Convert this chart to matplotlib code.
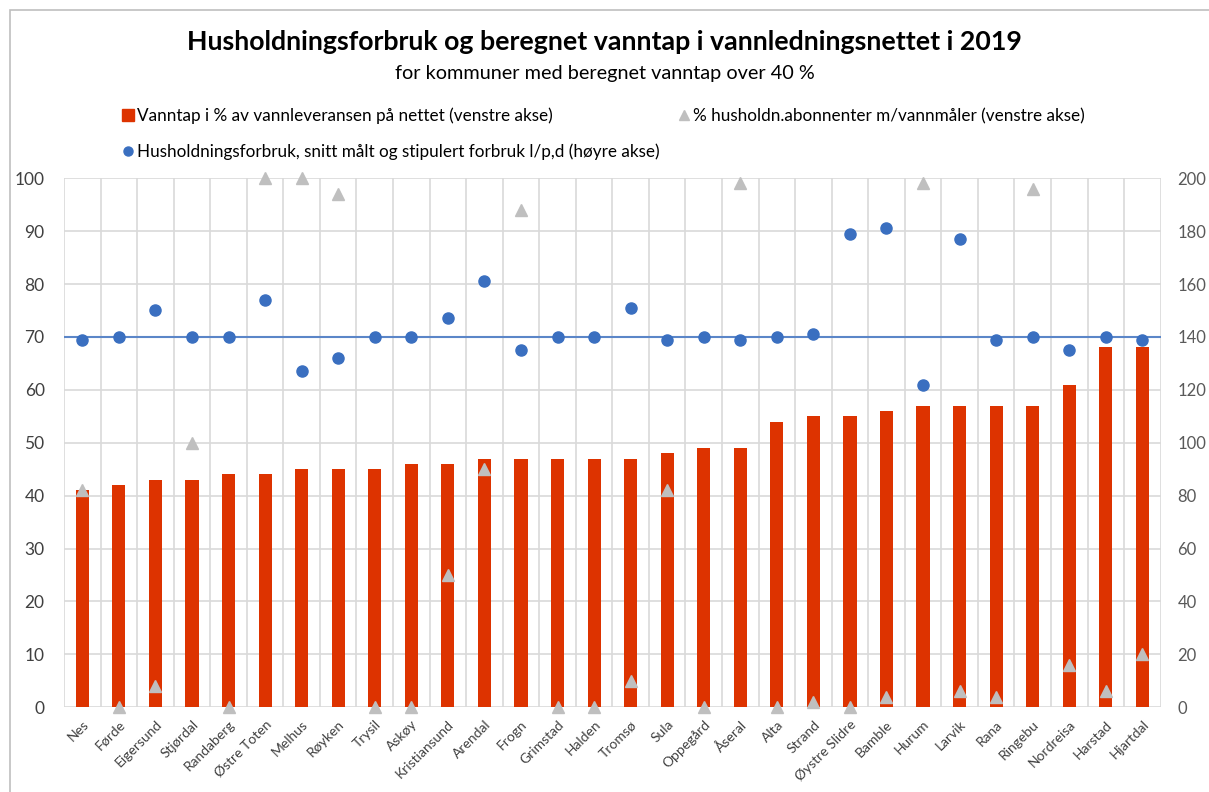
"""
Husholdningsforbruk og beregnet vanntap i vannledningsnettet i 2019
"""

import matplotlib.pyplot as plt
from matplotlib.lines import Line2D
from matplotlib.patches import Rectangle
import numpy as np

plt.rcParams["font.family"] = ["Lato", "DejaVu Sans"]

kommuner = [
    "Nes", "Førde", "Eigersund", "Stjørdal", "Randaberg", "Østre Toten",
    "Melhus", "Røyken", "Trysil", "Askøy", "Kristiansund", "Arendal",
    "Frogn", "Grimstad", "Halden", "Tromsø", "Sula", "Oppegård", "Åseral",
    "Alta", "Strand", "Øystre Slidre", "Bamble", "Hurum", "Larvik", "Rana",
    "Ringebu", "Nordreisa", "Harstad", "Hjartdal",
]

# Vanntap i % av vannleveransen (venstre akse)
vanntap = [41, 42, 43, 43, 44, 44, 45, 45, 45, 46, 46, 47, 47, 47, 47,
           47, 48, 49, 49, 54, 55, 55, 56, 57, 57, 57, 57, 61, 68, 68]

# % husholdn.abonnenter m/vannmåler (venstre akse)
vannmaaler = [41, 0, 4, 50, 0, 100, 100, 97, 0, 0, 25, 45, 94, 0, 0,
              5, 41, 0, 99, 0, 1, 0, 2, 99, 3, 2, 98, 8, 3, 10]

# Husholdningsforbruk l/p,d (høyre akse)
forbruk = [139, 140, 150, 140, 140, 154, 127, 132, 140, 140, 147, 161, 135, 140, 140,
           151, 139, 140, 139, 140, 141, 179, 181, 122, 177, 139, 140, 135, 140, 139]

snitt_forbruk = 140

red = "#dd3300"
grey = "#bfbfbf"
blue = "#3a6fc0"
grid_c = "#d9d9d9"
tick_c = "#404040"

fig = plt.figure(figsize=(12.09, 7.92), dpi=100)
ax = fig.add_axes([0.053, 0.107, 0.907, 0.668])
ax2 = ax.twinx()

x = np.arange(len(kommuner))

# gridlines: horizontal every 10, vertical between categories
for yv in np.arange(0, 101, 10):
    ax.axhline(yv, color=grid_c, linewidth=1.2, zorder=0)
for xv in np.arange(-0.5, len(kommuner), 1):
    ax.axvline(xv, color=grid_c, linewidth=1.2, zorder=0)

ax.bar(x, vanntap, width=0.36, color=red, zorder=2)
ax.plot(x, vannmaaler, linestyle="none", marker="^", markersize=9,
        color=grey, zorder=3, clip_on=False)

ax2.axhline(snitt_forbruk, color="#5b86c8", linewidth=1.5, zorder=1)
ax2.plot(x, forbruk, linestyle="none", marker="o", markersize=8,
         color=blue, zorder=4, clip_on=False)

ax.set_xlim(-0.5, len(kommuner) - 0.5)
ax.set_ylim(0, 100)
ax2.set_ylim(0, 200)
ax.set_yticks(np.arange(0, 101, 10))
ax2.set_yticks(np.arange(0, 201, 20))

ax.set_xticks(x)
ax.set_xticklabels(kommuner, rotation=45, ha="right", rotation_mode="anchor",
                   fontsize=10, color=tick_c)
ax.tick_params(axis="x", length=0, pad=8)
ax.tick_params(axis="y", length=0, labelsize=12.5, colors=tick_c, pad=14)
ax2.tick_params(axis="y", length=0, labelsize=12, colors="#595959", pad=12)

for a in (ax, ax2):
    for s in a.spines.values():
        s.set_visible(False)
ax2.patch.set_visible(False)

fig.text(0.5, 0.947, "Husholdningsforbruk og beregnet vanntap i vannledningsnettet i 2019",
         ha="center", va="center", fontsize=19.3, fontweight="bold")
fig.text(0.5, 0.907, "for kommuner med beregnet vanntap over 40 %",
         ha="center", va="center", fontsize=14.3)

handles = [
    Line2D([], [], linestyle="none", marker="s", markersize=8, color=red,
           label="Vanntap i % av vannleveransen på nettet (venstre akse)"),
    Line2D([], [], linestyle="none", marker="o", markersize=6.5, color=blue,
           label="Husholdningsforbruk, snitt målt og stipulert forbruk l/p,d (høyre akse)"),
    Line2D([], [], linestyle="none", marker="^", markersize=6.5, color=grey,
           label="% husholdn.abonnenter m/vannmåler (venstre akse)"),
]
fig.legend(handles=handles, ncol=2, loc="upper left", bbox_to_anchor=(0.093, 0.873),
           frameon=False, fontsize=12.3, handletextpad=0.05, handlelength=1.0,
           columnspacing=0.9, labelspacing=1.15, borderaxespad=0)

# outer border
fig.patches.append(Rectangle((0.008, -0.01), 1.0, 0.998, transform=fig.transFigure,
                             fill=False, edgecolor="#bfbfbf", linewidth=1.2))

plt.savefig("out.png", dpi=100)
